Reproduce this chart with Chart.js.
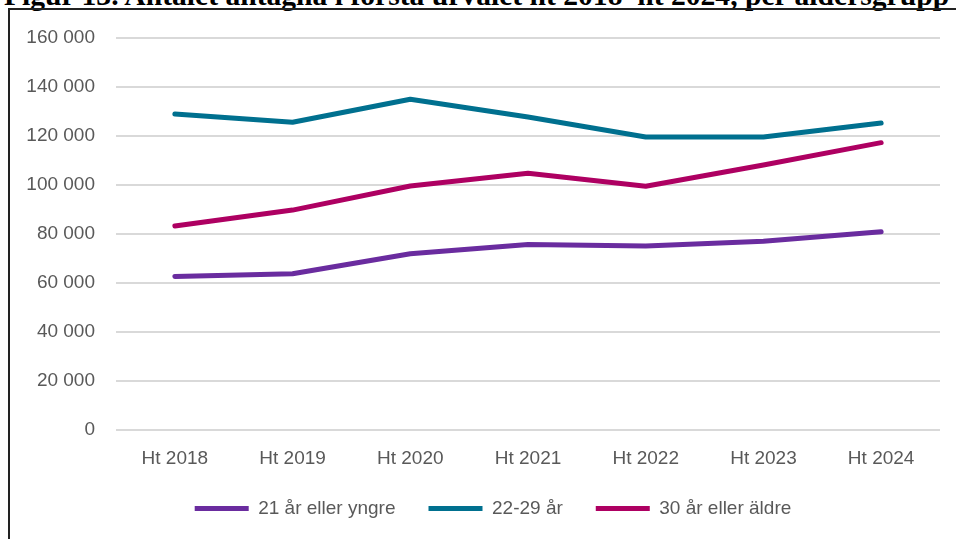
<!DOCTYPE html>
<html>
<head>
<meta charset="utf-8">
<script src="https://cdn.jsdelivr.net/npm/chart.js@4.4.1/dist/chart.umd.min.js"></script>
<style>
    body { margin: 0; background: #fff; width: 956px; height: 539px; overflow: hidden; position: relative; }
    .titulo {
        position: absolute; left: 4px; top: -19px; white-space: nowrap;
        font-family: "Liberation Serif", serif; font-weight: bold; font-size: 29.6px; line-height: 29px; color: #000;
    }
    .moldura {
        position: absolute; left: 8px; top: 8px; width: 960px; height: 540px;
        border-left: 2px solid #222; border-top: 2px solid #222;
    }
    #grafico { position: absolute; left: 0; top: 0; }
</style>
</head>
<body>
<div class="titulo">Figur 13. Antalet antagna i första urvalet ht 2018–ht 2024, per åldersgrupp</div>
<div class="moldura"></div>
<canvas id="grafico" width="956" height="539"></canvas>
<script>
// dados
const categorias = ['Ht 2018', 'Ht 2019', 'Ht 2020', 'Ht 2021', 'Ht 2022', 'Ht 2023', 'Ht 2024'];
const ate21 = [62700, 63800, 72000, 75800, 75100, 77100, 81000];
const de22a29 = [129000, 125600, 135000, 127800, 119600, 119600, 125300];
const acima30 = [83300, 89800, 99600, 104800, 99500, 108200, 117300];
const nomesSeries = ['21 år eller yngre', '22-29 år', '30 år eller äldre'];

function serie(nome, valores, cor) {
    return {
        label: nome,
        data: valores,
        borderColor: cor,
        backgroundColor: cor,
        borderWidth: 5,
        borderCapStyle: 'round',
        borderJoinStyle: 'round',
        pointRadius: 0,
        pointStyle: 'line',
        tension: 0,
        fill: false
    };
}

// empurra a legenda um pouco para a direita, como no original
const deslocarLegenda = {
    id: 'deslocarLegenda',
    afterLayout: function (chart) {
        chart.legend.left += 36;
    }
};

const ctx = document.getElementById('grafico').getContext('2d');

new Chart(ctx, {
    type: 'line',
    data: {
        labels: categorias,
        datasets: [
            serie(nomesSeries[0], ate21, '#6A2C9F'),
            serie(nomesSeries[1], de22a29, '#00708F'),
            serie(nomesSeries[2], acima30, '#AE0062')
        ]
    },
    plugins: [deslocarLegenda],
    options: {
        responsive: false,
        animation: false,
        layout: {
            padding: { left: 10, right: 16, top: 38, bottom: 11 }
        },
        plugins: {
            legend: {
                position: 'bottom',
                labels: {
                    usePointStyle: true,
                    pointStyleWidth: 54,
                    boxHeight: 6,
                    padding: 33,
                    color: '#595959',
                    font: { family: 'Liberation Sans', size: 19 }
                }
            },
            tooltip: { enabled: false }
        },
        scales: {
            x: {
                offset: true,
                afterFit: function (escala) { escala.height -= 21; },
                grid: { display: false, drawTicks: false },
                border: { display: false },
                ticks: {
                    padding: 17,
                    color: '#595959',
                    font: { family: 'Liberation Sans', size: 19 }
                }
            },
            y: {
                min: 0,
                max: 160000,
                afterFit: function (escala) { escala.width = 106; },
                grid: { color: '#D9D9D9', lineWidth: 2, drawTicks: false },
                border: { display: false },
                ticks: {
                    stepSize: 20000,
                    padding: 21,
                    color: '#595959',
                    font: { family: 'Liberation Sans', size: 19 },
                    callback: function (v) { return v.toLocaleString('sv-SE'); }
                }
            }
        }
    }
});
</script>
</body>
</html>
